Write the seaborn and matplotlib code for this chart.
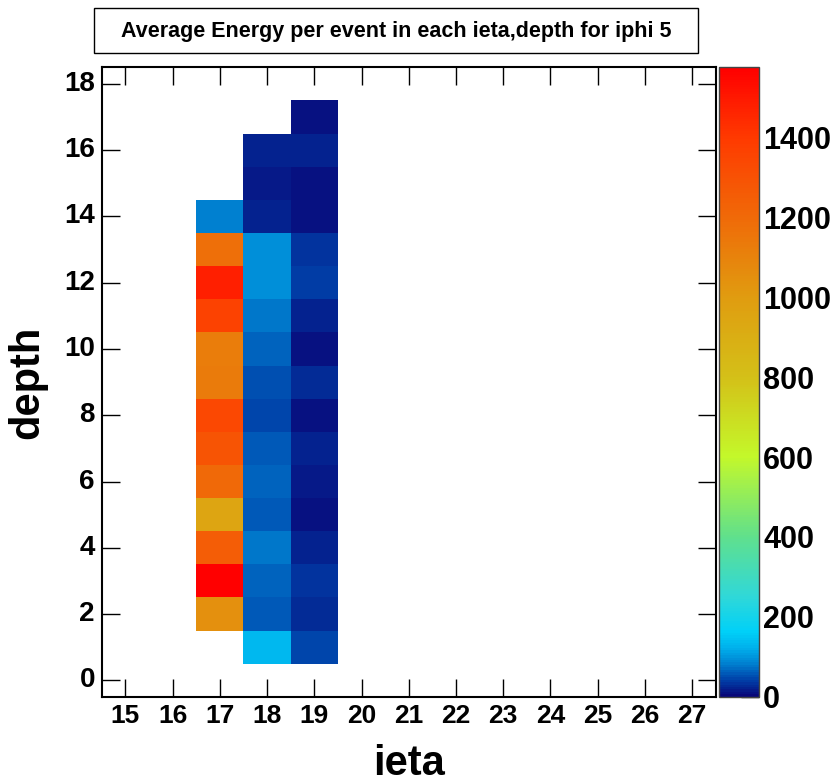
import numpy as np
import pandas as pd
import matplotlib
matplotlib.use('Agg')
import matplotlib.pyplot as plt
import seaborn as sns
from matplotlib.colors import LinearSegmentedColormap
from matplotlib.patches import Rectangle

# data (average energy per event, iphi 5)
ieta_bins = list(range(15, 28))
depth_bins = list(range(0, 19))

ieta17_depths = list(range(2, 15))
ieta17_vals = [1050, 1575, 1250, 950, 1200, 1290, 1340, 1130, 1120, 1360, 1480, 1180, 80]

ieta18_depths = list(range(1, 17))
ieta18_vals = [135, 58, 66, 76, 60, 66, 60, 45, 55, 64, 74, 98, 96, 24, 14, 22]

ieta19_depths = list(range(1, 18))
ieta19_vals = [44, 26, 32, 24, 7, 14, 24, 8, 30, 12, 24, 40, 32, 12, 12, 22, 12]

zmax = 1575
cbar_ticks = [0, 200, 400, 600, 800, 1000, 1200, 1400]

# build the grid
grid = pd.DataFrame(np.nan, index=depth_bins, columns=ieta_bins)
for ieta, depths, vals in [(17, ieta17_depths, ieta17_vals),
                           (18, ieta18_depths, ieta18_vals),
                           (19, ieta19_depths, ieta19_vals)]:
    for d, v in zip(depths, vals):
        grid.loc[d, ieta] = v

# ROOT-like rainbow palette
anchors = [(0, '#08087a'), (40, '#0040a8'), (80, '#0080d0'), (120, '#00b0ec'),
           (160, '#00d0f8'), (250, '#30d8d8'), (400, '#60e08c'), (600, '#c4f82a'),
           (800, '#d4c018'), (1000, '#e09c10'), (1200, '#f06a08'), (1400, '#ff3a00'),
           (1575, '#ff0000')]
cmap = LinearSegmentedColormap.from_list('root_rainbow', [(v / zmax, c) for v, c in anchors])

sns.set_style("white")
plt.rcParams['font.family'] = ['Liberation Sans', 'DejaVu Sans']
plt.rcParams['font.weight'] = 'bold'
for key in ['text.color', 'axes.labelcolor', 'xtick.color', 'ytick.color']:
    plt.rcParams[key] = 'black'

fig = plt.figure(figsize=(8.35, 7.83), dpi=100)
ax = fig.add_axes([0.122, 0.110, 0.735, 0.804])
cax = fig.add_axes([0.861, 0.110, 0.048, 0.804])

sns.heatmap(grid, ax=ax, cmap=cmap, vmin=0, vmax=zmax, cbar_ax=cax,
            xticklabels=ieta_bins, yticklabels=depth_bins,
            cbar_kws={'ticks': cbar_ticks})
ax.invert_yaxis()

for s in ax.spines.values():
    s.set_visible(True)
    s.set_color('black')
    s.set_linewidth(1.5)

ax.set_xticks([i + 0.5 for i in range(len(ieta_bins))])
ax.set_xticklabels([str(i) for i in ieta_bins], fontsize=19, fontweight='bold', rotation=0)
ax.set_yticks([d + 0.5 for d in depth_bins[::2]])
ax.set_yticklabels([str(d) for d in depth_bins[::2]], fontsize=20, fontweight='bold', rotation=0)
ax.tick_params(direction='in', length=13, width=1, top=True, right=True,
               bottom=True, left=True, pad=5, colors='black')

ax.set_xlabel('ieta', fontsize=30, fontweight='bold', labelpad=12)
ax.set_ylabel('depth', fontsize=30, fontweight='bold', labelpad=12)

cax.tick_params(direction='in', length=13, width=1, labelsize=22, right=True, pad=3, colors='black')
for lab in cax.get_yticklabels():
    lab.set_fontweight('bold')
cb = ax.collections[0].colorbar
cb.outline.set_visible(True)
cb.outline.set_edgecolor('#444444')
cb.outline.set_linewidth(1)

# title box
fig.patches.append(Rectangle((94 / 835, 1 - 53 / 783), 604 / 835, 45 / 783,
                             transform=fig.transFigure, fill=False,
                             edgecolor='black', linewidth=1))
fig.text(396 / 835, 1 - 31 / 783, 'Average Energy per event in each ieta,depth for iphi 5',
         ha='center', va='center', fontsize=15.5, fontweight='bold')

fig.savefig('out.png', dpi=100)
